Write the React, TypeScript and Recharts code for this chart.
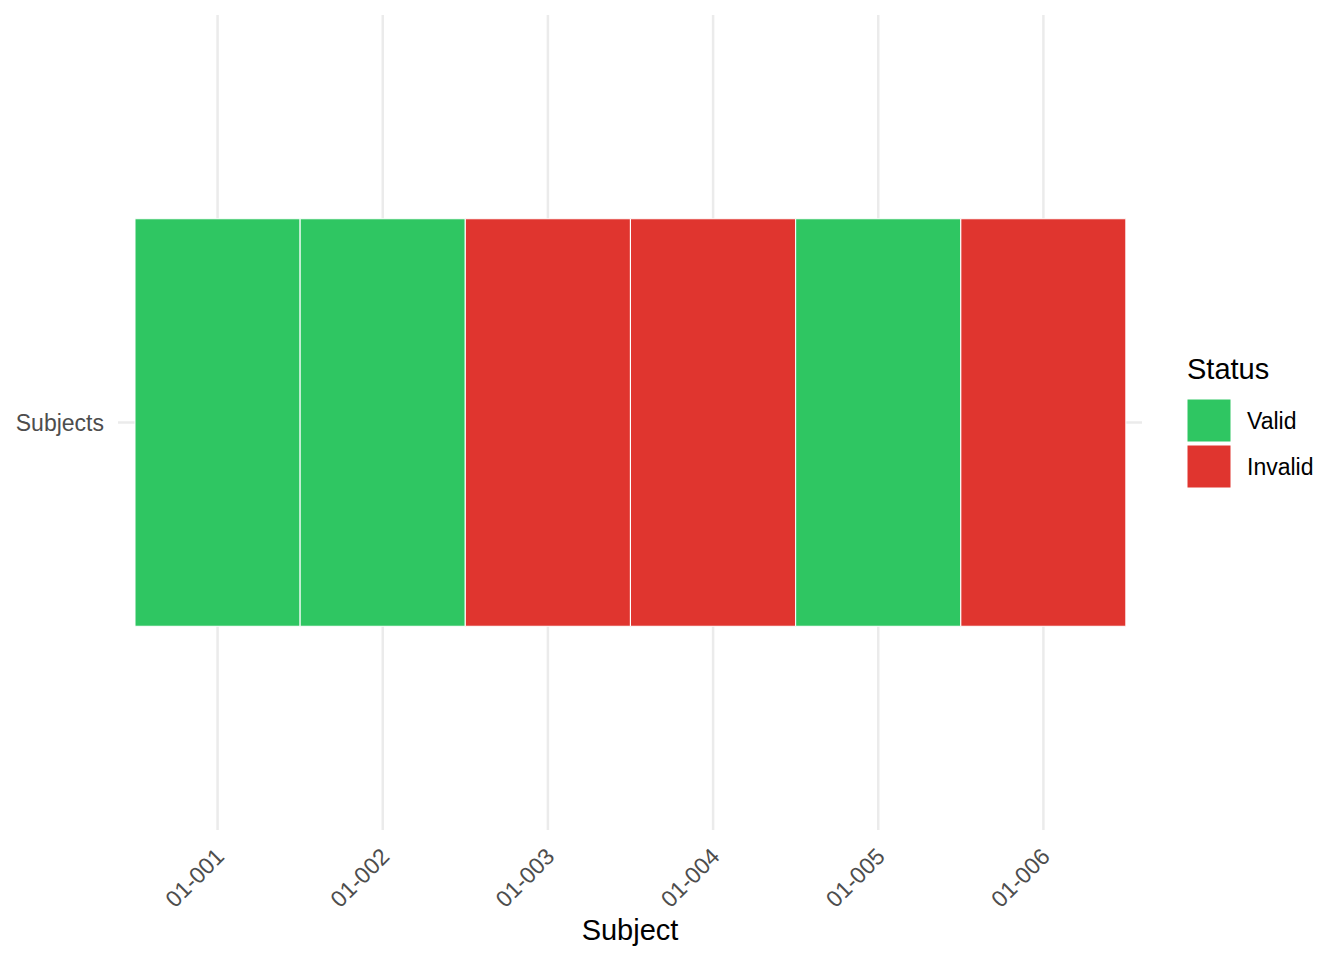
import React from 'react';
import { BarChart, Bar, XAxis, YAxis, CartesianGrid, Cell, Legend } from 'recharts';

const subjects = ['01-001', '01-002', '01-003', '01-004', '01-005', '01-006'];
const subjectStatus = ['Valid', 'Valid', 'Invalid', 'Invalid', 'Valid', 'Invalid'];
const rowLabel = 'Subjects';
const rowValue = 1;
const tileSpan = [0.5, 1.5];
const statusLevels = ['Valid', 'Invalid'];
const statusColors = ['#2FC662', '#E0352F'];

const FONT = '"Liberation Sans", Arial, Helvetica, sans-serif';

const colorOf = (s: string) => statusColors[statusLevels.indexOf(s)];

const data = subjects.map((s, i) => ({
  subject: s,
  status: subjectStatus[i],
  tile: tileSpan,
}));

const XTick = (props: any) => {
  const { x, y, payload } = props;
  return (
    <g transform={`translate(${x},${y})`}>
      <text
        x={8}
        y={28}
        transform="rotate(-45 8 28)"
        textAnchor="end"
        fill="#4D4D4D"
        fontSize={23}
        fontFamily={FONT}
      >
        {payload.value}
      </text>
    </g>
  );
};

const LegendContent = () => (
  <svg width={160} height={145} style={{ overflow: 'visible' }}>
    <text x={7} y={29} fontSize={29} fontFamily={FONT} fill="#000">
      Status
    </text>
    {statusLevels.map((s, i) => (
      <g key={s}>
        <rect x={7} y={49 + i * 46} width={44} height={43} fill={statusColors[i]} stroke="#fff" strokeWidth={1} />
        <text
          x={67}
          y={70.5 + i * 46}
          dominantBaseline="central"
          fontSize={23}
          fontFamily={FONT}
          fill="#000"
        >
          {s}
        </text>
      </g>
    ))}
  </svg>
);

export default function App() {
  return (
    <div style={{ position: 'absolute', left: 0, top: 0, width: 1344, height: 960, background: '#fff' }}>
      <BarChart
        width={1344}
        height={960}
        data={data}
        margin={{ top: 15, right: 202, left: 0, bottom: 0 }}
        barCategoryGap={0}
        barGap={0}
      >
        <CartesianGrid stroke="#EBEBEB" strokeWidth={2.5} syncWithTicks={true} />
        <XAxis
          dataKey="subject"
          type="category"
          height={130}
          padding={{ left: 17, right: 16 }}
          axisLine={false}
          tickLine={false}
          tickSize={0}
          tickMargin={0}
          interval={0}
          tick={<XTick />}
          label={{
            value: 'Subject',
            position: 'insideBottom',
            offset: 20,
            fontSize: 29,
            fontFamily: FONT,
            fill: '#000',
          }}
        />
        <YAxis
          type="number"
          domain={[0, 2]}
          ticks={[rowValue]}
          tickFormatter={() => rowLabel}
          width={118}
          axisLine={false}
          tickLine={false}
          tickSize={0}
          tickMargin={14}
          tick={{ fill: '#4D4D4D', fontSize: 23, fontFamily: FONT }}
        />
        <Bar dataKey="tile" isAnimationActive={false} stroke="#fff" strokeWidth={1}>
          {data.map((d) => (
            <Cell key={d.subject} fill={colorOf(d.status)} />
          ))}
        </Bar>
        <Legend
          layout="horizontal"
          align="center"
          verticalAlign="middle"
          wrapperStyle={{ position: 'absolute', left: 1180, top: 350, width: 160, height: 145 }}
          content={() => <LegendContent />}
        />
      </BarChart>
    </div>
  );
}
